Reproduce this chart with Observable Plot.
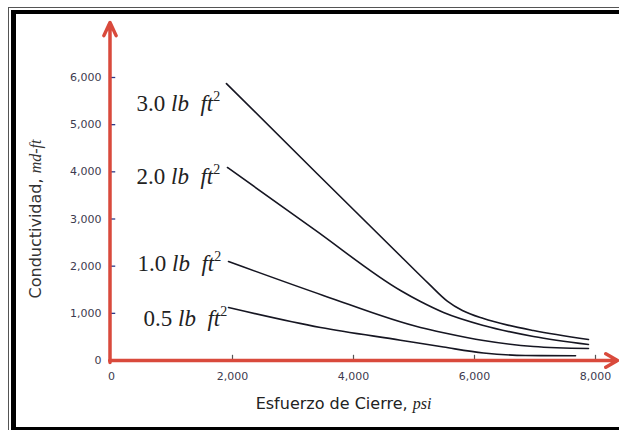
<!DOCTYPE html>
<html><head><meta charset="utf-8">
<script src="https://cdn.jsdelivr.net/npm/d3@7"></script>
<script src="https://cdn.jsdelivr.net/npm/@observablehq/plot@0.6"></script>
<style>
html,body{margin:0;padding:0;background:#fff;overflow:hidden;}
#wrap{position:relative;width:619px;height:430px;overflow:hidden;background:#fff;}
.b1{position:absolute;left:8px;top:7px;width:700px;height:500px;border-style:solid;border-color:#555;border-width:1px 0 0 1px;}
.b2{position:absolute;left:11px;top:10px;width:700px;height:413px;border-style:solid;border-color:#000;border-width:4px 0 4px 5px;}
#chart{position:absolute;left:0;top:0;}
</style></head><body><div id="wrap"><div class="b1"></div><div class="b2"></div><div id="chart"></div></div>
<script>
// Data
const series = ["3.0", "2.0", "1.0", "0.5"];
const stress30 = [1900, 3400, 4777, 5250, 5550, 5800, 6149, 6550, 6975, 7884];
const cond30   = [5870, 3960, 2216, 1620, 1260, 1060, 890, 750, 636, 445];
const stress20 = [1917, 3350, 4777, 5107, 5488, 6149, 6975, 7884];
const cond20   = [4092, 2780, 1484, 1250, 1018, 742, 509, 339];
const stress10 = [1934, 3500, 5107, 5488, 6149, 6975, 7884];
const cond10   = [2099, 1380, 700, 590, 424, 297, 254];
const stress05 = [1934, 3455, 4777, 5488, 6149, 6843, 7670];
const cond05   = [1124, 700, 430, 285, 160, 106, 100];
const xTicks = [0, 2000, 4000, 6000, 8000];
const yTicks = [0, 1000, 2000, 3000, 4000, 5000, 6000];
const labelStress = [413, 413, 430, 529];
const labelCond = [5300, 3752, 1887, 742];
const yTitle = "Conductividad, md-ft";
const xTitle = "Esfuerzo de Cierre, psi";

const xs = [stress30, stress20, stress10, stress05];
const ys = [cond30, cond20, cond10, cond05];
const rows = series.flatMap((s, i) => xs[i].map((x, j) => ({series: s, x, y: ys[i][j]})));
const labels = series.map((s, i) => ({text: s + " lb ft2", x: labelStress[i], y: labelCond[i]}));

const red = "#d94a3c";
const svg = Plot.plot({
  width: 619, height: 430,
  marginLeft: 111, marginRight: 24, marginTop: 77, marginBottom: 70,
  style: {background: "transparent", fontFamily: "DejaVu Sans", overflow: "visible"},
  x: {domain: [0, 8000]},
  y: {domain: [0, 6000]},
  marks: [
    Plot.axisY({ticks: yTicks, tickSize: 0, tickPadding: 10, tickFormat: d3.format(","), fontSize: 11, color: "#3d3a4f", label: null}),
    Plot.axisX({ticks: xTicks, tickSize: 0, tickPadding: 12, tickFormat: d3.format(","), fontSize: 11, color: "#3d3a4f", label: null}),
    Plot.ruleY(yTicks.slice(1), {y: d => d, x1: 0, x2: 70, stroke: "#2b3a8a", strokeWidth: 1.3}),
    Plot.ruleX(xTicks.slice(1), {x: d => d, y1: 0, y2: 110, stroke: "#555", strokeWidth: 1.2}),
    Plot.line(rows, {x: "x", y: "y", z: "series", curve: "monotone-x", stroke: "#161622", strokeWidth: 1.6}),
    Plot.arrow([0], {x1: 0, x2: 0, y1: -40, y2: 7166, dx: -1.5, stroke: red, strokeWidth: 3.5, headLength: 6.2, headAngle: 50}),
    Plot.arrow([0], {x1: -30, x2: 8364, y1: 0, y2: 0, stroke: red, strokeWidth: 3.5, headLength: 5.8, headAngle: 60}),
    Plot.text(labels, {x: "x", y: "y", text: "text", textAnchor: "start", lineAnchor: "bottom", fontSize: 23, fontFamily: "Liberation Serif", fill: "#222"}),
    Plot.text([yTitle], {frameAnchor: "left", textAnchor: "middle", lineAnchor: "middle", dx: -76, rotate: -90, text: d => d, fontSize: 16, fill: "#333"}),
    Plot.text([xTitle], {frameAnchor: "bottom", textAnchor: "middle", lineAnchor: "top", dx: -10, dy: 37, text: d => d, fontSize: 16, fill: "#222"})
  ]
});

// mixed roman / italic styling inside the texts
d3.select(svg).selectAll("text").each(function() {
  const t = this.textContent;
  const sel = d3.select(this);
  let m = t.match(/^(\d\.\d) lb ft2$/);
  if (m) {
    sel.text(null);
    sel.append("tspan").text(m[1] + " ");
    sel.append("tspan").attr("font-style", "italic").text("lb");
    sel.append("tspan").attr("font-style", "italic").text("\u00a0\u00a0ft");
    sel.append("tspan").attr("font-size", 14).attr("dy", -10).text("2");
  } else if (t === yTitle || t === xTitle) {
    const parts = t.split(", ");
    sel.text(null);
    sel.append("tspan").text(parts[0] + ",\u00a0");
    sel.append("tspan").attr("font-style", "italic").attr("font-family", "Liberation Serif").text(parts[1]);
  }
});
document.getElementById("chart").appendChild(svg);
</script></body></html>
